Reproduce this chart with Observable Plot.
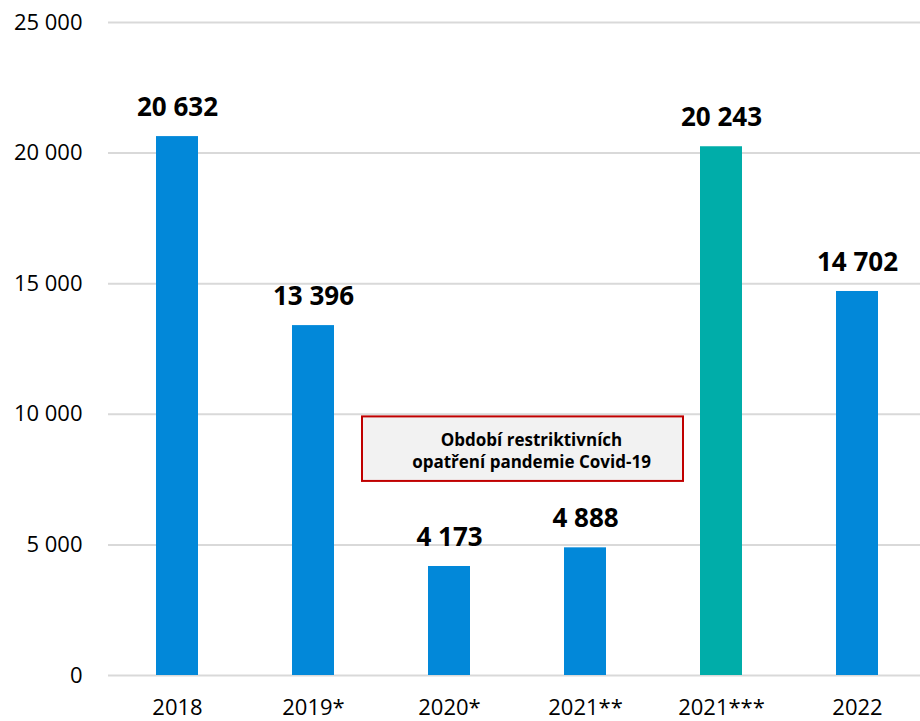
<!DOCTYPE html>
<html><head><meta charset="utf-8">
<script src="https://cdn.jsdelivr.net/npm/d3@7"></script>
<script src="https://cdn.jsdelivr.net/npm/@observablehq/plot@0.6"></script>
<style>
body{margin:0;background:#fff;font-family:"Open Sans",sans-serif;}
</style></head><body>
<div id="chart"></div>
<script>
const categories = ["2018","2019*","2020*","2021**","2021***","2022"];
const values = [20632, 13396, 4173, 4888, 20243, 14702];
const colors = ["#0288d9","#0288d9","#0288d9","#0288d9","#00ada9","#0288d9"];
const yTicks = [0, 5000, 10000, 15000, 20000, 25000];
const noteText = "Období restriktivních\nopatření pandemie Covid-19";
const noteSpan = {from: "2020*", to: "2021**", y1: 7430, y2: 9900, ytext: 8630};

const loc = d3.formatLocale({decimal: ",", thousands: " ", grouping: [3]});
const fmt = loc.format(",d");
const data = categories.map((c, i) => ({cat: c, value: values[i], color: colors[i]}));

const chart = Plot.plot({
  width: 920, height: 721,
  marginLeft: 108, marginRight: 0, marginTop: 22, marginBottom: 46,
  style: {fontFamily: "Open Sans, sans-serif", fontSize: "22px", color: "#000", background: "#fff"},
  x: {domain: categories, range: [108, 926], paddingInner: 0.69, paddingOuter: 0.345, label: null},
  y: {domain: [0, 25000], label: null},
  marks: [
    Plot.ruleY(yTicks, {stroke: "#d9d9d9", strokeWidth: 2, strokeOpacity: 1}),
    Plot.axisY({ticks: yTicks, tickFormat: fmt, tickSize: 0, tickPadding: 26, fontSize: 22, label: null}),
    Plot.axisX({tickSize: 0, tickPadding: 24, fontSize: 22, label: null}),
    Plot.barY(data, {x: "cat", y: "value", fill: "color"}),
    Plot.text(data, {x: "cat", y: "value", text: d => fmt(d.value), dy: -29, fontSize: 26, fontWeight: "bold", fill: "#000"}),
    Plot.rect([noteSpan], {x1: "from", x2: "to", y1: "y1", y2: "y2", fill: "#f2f2f2", stroke: "#c00000", strokeWidth: 2, insetLeft: -66, insetRight: -77}),
    Plot.text([noteSpan], {x: () => "2020*", y: "ytext", text: () => noteText, dx: 82, fontSize: 17, fontWeight: "bold", lineHeight: 1.28, fill: "#000"})
  ]
});
document.getElementById("chart").appendChild(chart);
</script>
</body></html>
